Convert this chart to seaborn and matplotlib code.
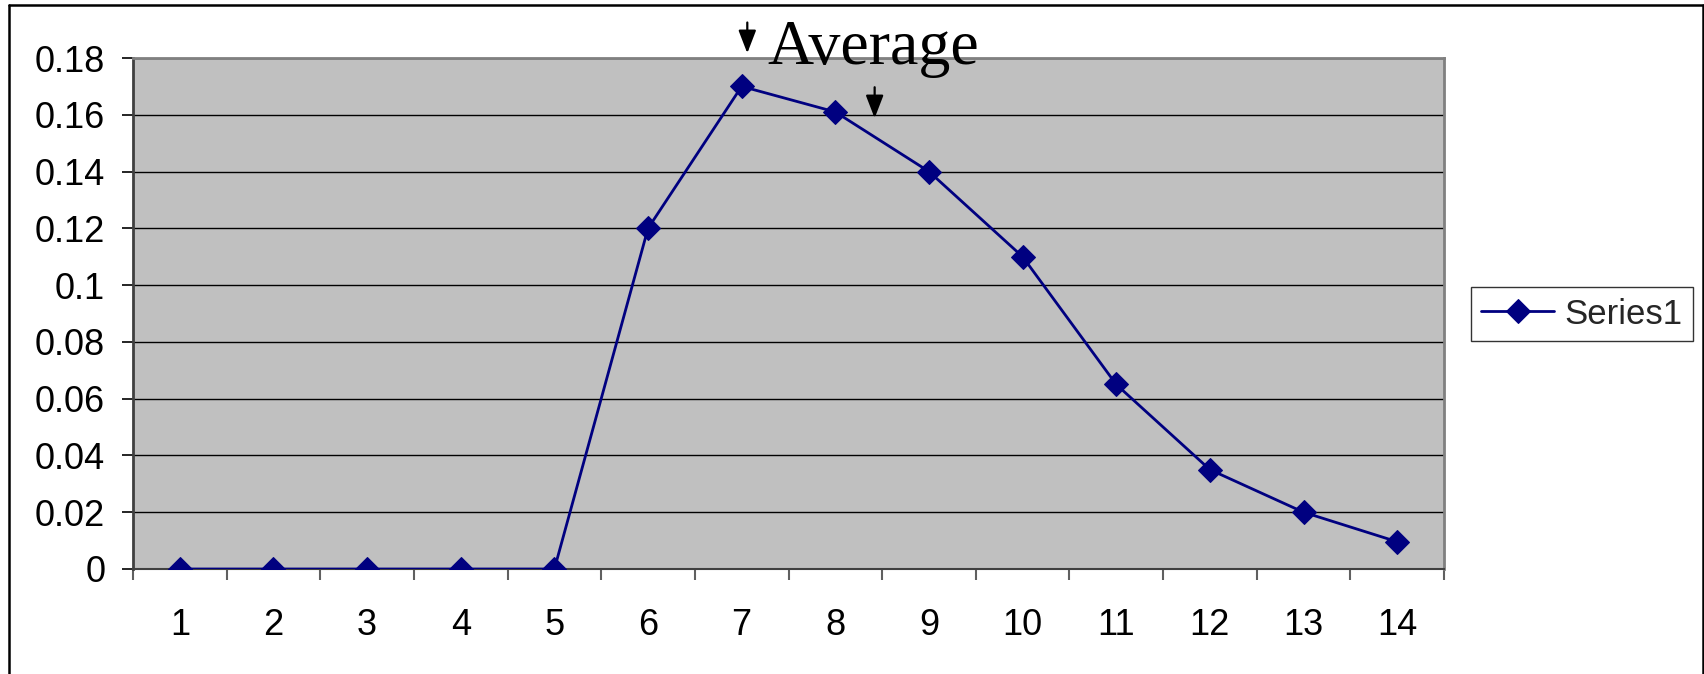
import matplotlib
matplotlib.use("Agg")
import matplotlib.pyplot as plt
from matplotlib.lines import Line2D
from matplotlib.ticker import FixedLocator
import seaborn as sns
import pandas as pd
import numpy as np

# Series data
categories = list(range(1, 15))
series1 = [0, 0, 0, 0, 0, 0.12, 0.17, 0.161, 0.14, 0.11, 0.065, 0.035, 0.02, 0.0096]
yticks = [0, 0.02, 0.04, 0.06, 0.08, 0.1, 0.12, 0.14, 0.16, 0.18]
ytick_labels = ["0", "0.02", "0.04", "0.06", "0.08", "0.1", "0.12", "0.14", "0.16", "0.18"]

df = pd.DataFrame({"x": categories, "y": series1, "series": "Series1"})

sns.set_theme(style="white")
plt.rcParams["font.family"] = ["Liberation Sans", "DejaVu Sans"]

W, H = 1704, 674
fig = plt.figure(figsize=(W / 100, H / 100), dpi=100)
ax = fig.add_axes([133 / W, 1 - 569 / H, (1444 - 133) / W, (569 - 58) / H])
ax.set_facecolor("#C0C0C0")

navy = "#000080"
sns.lineplot(data=df, x="x", y="y", hue="series", palette=[navy], marker="D",
             markersize=12, markeredgecolor=navy, linewidth=2.0, ax=ax, zorder=3)

ax.set_xlim(0.5, 14.5)
ax.set_ylim(0, 0.18)
ax.set_xlabel("")
ax.set_ylabel("")

# horizontal gridlines
ax.set_yticks(yticks)
ax.set_yticklabels(ytick_labels)
ax.yaxis.grid(True, color="black", linewidth=1.0)
ax.set_axisbelow(True)

# category labels centred, tick marks between categories
ax.xaxis.set_major_locator(FixedLocator(categories))
ax.set_xticklabels([str(c) for c in categories])
ax.xaxis.set_minor_locator(FixedLocator(np.arange(0.5, 15.0, 1.0)))
ax.tick_params(axis="x", which="major", length=0, pad=28, labelsize=26, labelcolor="black")
ax.tick_params(axis="x", which="minor", length=8, width=1.5, color="#606060", direction="out",
               bottom=True)
ax.tick_params(axis="y", which="major", length=8, width=1.2, color="black", direction="out",
               left=True, pad=12, labelsize=26, labelcolor="black")

for side, col, lw in [("left", "#404040", 2.0), ("top", "#808080", 2.0),
                      ("right", "#808080", 2.0), ("bottom", "#404040", 1.5)]:
    ax.spines[side].set_visible(True)
    ax.spines[side].set_color(col)
    ax.spines[side].set_linewidth(lw)

# legend
leg = ax.legend(loc="center left", bbox_to_anchor=(1471 / W, 1 - 314 / H),
                bbox_transform=fig.transFigure, borderaxespad=0, frameon=True, fontsize=25,
                handlelength=2.1, handletextpad=0.3, borderpad=0.3, fancybox=False)
leg.get_frame().set_edgecolor("black")
leg.get_frame().set_linewidth(1.0)
leg.get_frame().set_facecolor("white")

# "Average" annotation with arrows
ax.text(7.27, 0.178, "Average", fontsize=46, family=["Liberation Serif", "DejaVu Serif"],
        color="black", ha="left", va="baseline", zorder=5, clip_on=False)
arrow_style = "-|>,head_length=0.7,head_width=0.27"
ax.annotate("", xy=(7.06, 0.1817), xytext=(7.06, 0.1925),
            arrowprops=dict(arrowstyle=arrow_style, color="black", lw=1.6, mutation_scale=20,
                            shrinkA=0, shrinkB=0),
            annotation_clip=False)
ax.annotate("", xy=(8.42, 0.1588), xytext=(8.42, 0.1697),
            arrowprops=dict(arrowstyle=arrow_style, color="black", lw=1.6, mutation_scale=20,
                            shrinkA=0, shrinkB=0),
            annotation_clip=False)

# chart frame
fx0, fx1, fy1 = 8.5 / W, 1702.5 / W, 1 - 5 / H
for xs, ys in [([fx0, fx0], [0, fy1]), ([fx0, fx1], [fy1, fy1]), ([fx1, fx1], [fy1, 0])]:
    fig.add_artist(Line2D(xs, ys, color="black", linewidth=1.8, transform=fig.transFigure))

fig.savefig("out.png", dpi=100)
